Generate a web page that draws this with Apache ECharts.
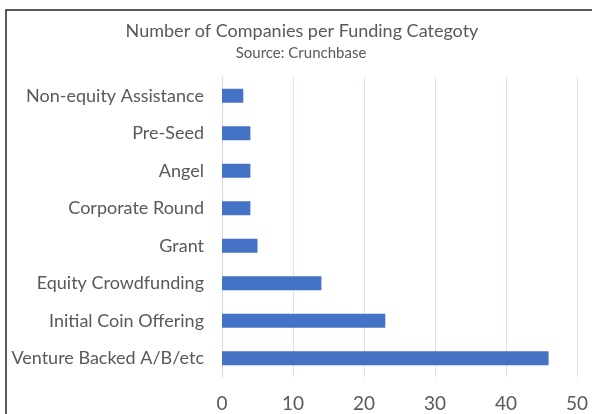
<!DOCTYPE html>
<html>
<head>
<meta charset="utf-8">
<script src="https://cdn.jsdelivr.net/npm/echarts@6/dist/echarts.min.js"></script>
<style>
html,body{margin:0;padding:0;background:#fff;}
#chart{width:592px;height:414px;}
</style>
</head>
<body>
<div id="chart"></div>
<script>
const categories = ["Venture Backed A/B/etc","Initial Coin Offering","Equity Crowdfunding","Grant","Corporate Round","Angel","Pre-Seed","Non-equity Assistance"];
const values = [46, 23, 14, 5, 4, 4, 4, 3];
const xTicks = [0, 10, 20, 30, 40, 50];
const titleText = 'Number of Companies per Funding Categoty';
const subtitleText = 'Source: Crunchbase';

const FONT = "Lato";
const chart = echarts.init(document.getElementById('chart'), null, {renderer:'canvas'});
chart.setOption({
  backgroundColor:'#ffffff',
  animation:false,
  graphic:[{
    type:'polyline',
    shape:{points:[[6,414],[6,10],[592,10]]},
    style:{stroke:'#222',lineWidth:1.5,fill:null},
    silent:true
  },{
    type:'text',
    x:302, y:31,
    style:{text:titleText,fontFamily:FONT,fontSize:18,fill:'#595959',textAlign:'center',textVerticalAlign:'middle'},
    silent:true
  },{
    type:'text',
    x:301, y:53,
    style:{text:subtitleText,fontFamily:FONT,fontSize:15,fill:'#595959',textAlign:'center',textVerticalAlign:'middle'},
    silent:true
  }],
  grid:{left:222,right:15,top:77,height:300,containLabel:false},
  xAxis:{
    type:'value',
    min:xTicks[0],
    max:xTicks[xTicks.length-1],
    interval:10,
    axisLine:{show:false},
    axisTick:{show:false},
    splitLine:{show:true,lineStyle:{color:'#d9e1ee',width:1}},
    axisLabel:{fontFamily:FONT,fontSize:19,color:'#595959',margin:17}
  },
  yAxis:{
    type:'category',
    data:categories,
    axisLine:{show:true,lineStyle:{color:'#d9d9d9'}},
    axisTick:{show:false},
    axisLabel:{fontFamily:FONT,fontSize:18,color:'#595959',margin:18}
  },
  series:[{
    type:'bar',
    data:values,
    barWidth:14,
    itemStyle:{color:'#4472c4'}
  }]
});
</script>
</body>
</html>
